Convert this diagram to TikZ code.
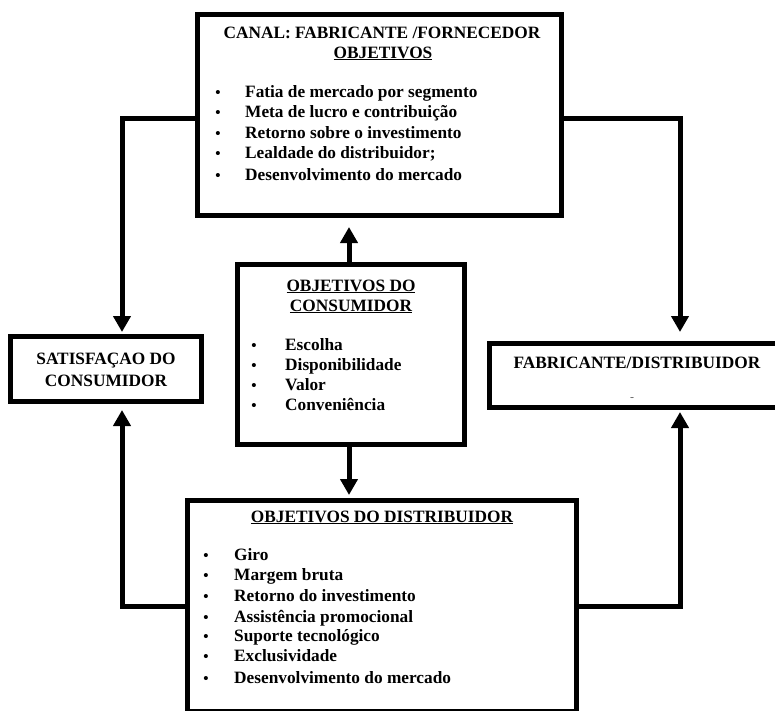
\documentclass[tikz,border=0pt]{standalone}
\usepackage{fontspec}
\setmainfont{Liberation Serif}
\usetikzlibrary{arrows.meta}
\begin{document}
\begin{tikzpicture}[x=1pt,y=-1pt,
  box/.style={draw,line width=5pt,inner sep=0pt,rectangle},
  conn/.style={line width=5pt,-{Triangle[width=17pt,length=16pt]}},
  txt/.style={inner sep=0pt,font=\fontsize{17.3}{20}\selectfont\bfseries},
  bul/.style={inner sep=0pt,anchor=base,font=\fontsize{15}{15}\selectfont\bfseries},
  ]
\useasboundingbox (0,0) rectangle (775,710);

% frames
\node[box,minimum width=364pt,minimum height=201pt] (canal) at (379.5,115) {};
\node[box,minimum width=191pt,minimum height=65pt] (satisf) at (106,369) {};
\node[box,minimum width=227pt,minimum height=180pt] (consumidor) at (351,354.5) {};
\node[box,minimum width=300.5pt,minimum height=64pt] (fabdist) at (639.75,375.5) {};
\node[box,minimum width=389pt,minimum height=211pt] (distrib) at (382,606) {};

% channel objectives
\node[txt,anchor=base] (canalT1) at (382,38) {CANAL: FABRICANTE /FORNECEDOR};
\node[txt,anchor=base] (canalT2) at (383,58) {\underline{OBJETIVOS}};
\foreach \y/\t [count=\i] in {97/Fatia de mercado por segmento,
    117/Meta de lucro e contribuição,
    138/Retorno sobre o investimento,
    158/Lealdade do distribuidor;,
    180/Desenvolvimento do mercado}{
  \node[bul] (canalB\i) at (218,\y) {•};
  \node[txt,anchor=base west] (canalI\i) at (245,\y) {\t};
}

% consumer satisfaction
\node[txt,anchor=base] (satT1) at (106,364) {SATISFAÇAO DO};
\node[txt,anchor=base] (satT2) at (106,386) {CONSUMIDOR};

% consumer objectives
\node[txt,anchor=base] (consT1) at (351,291) {\underline{OBJETIVOS DO}};
\node[txt,anchor=base] (consT2) at (351,311) {\underline{CONSUMIDOR}};
\foreach \y/\t [count=\i] in {350.5/Escolha, 370.5/Disponibilidade,
    390.5/Valor, 410.5/Conveniência}{
  \node[bul] (consB\i) at (254,\y) {•};
  \node[txt,anchor=base west] (consI\i) at (285,\y) {\t};
}

% manufacturer / distributor
\node[txt,anchor=base] (fabT) at (637,368) {FABRICANTE/DISTRIBUIDOR};
\node[inner sep=0pt,font=\fontsize{7}{7}\selectfont\bfseries] (fabM) at (632,398) {..};

% distributor objectives
\node[txt,anchor=base] (distT) at (382,522) {\underline{OBJETIVOS DO DISTRIBUIDOR}};
\foreach \y/\t [count=\i] in {560/Giro, 580/Margem bruta,
    601/Retorno do investimento, 622/Assistência promocional,
    641/Suporte tecnológico, 661/Exclusividade,
    683/Desenvolvimento do mercado}{
  \node[bul] (distB\i) at (206,\y) {•};
  \node[txt,anchor=base west] (distI\i) at (234,\y) {\t};
}

% connectors
\coordinate (up) at ([xshift=-2pt]consumidor.north);
\coordinate (down) at ([xshift=-2pt]consumidor.south);
\draw[conn,shorten >=2pt] ([yshift=-3pt]canal.west) -| ([xshift=16pt]satisf.north);
\draw[conn,shorten >=9pt] ([yshift=-3pt]canal.east) -| ([xshift=40.25pt]fabdist.north);
\draw[conn,shorten >=9pt] (up) -- (up |- canal.south);
\draw[conn,shorten >=3pt] (down) -- (down |- distrib.north);
\draw[conn,shorten >=6pt] (distrib.west) -| ([xshift=16pt]satisf.south);
\draw[conn,shorten >=2pt] (distrib.east) -| ([xshift=40.25pt]fabdist.south);
\end{tikzpicture}
\end{document}
